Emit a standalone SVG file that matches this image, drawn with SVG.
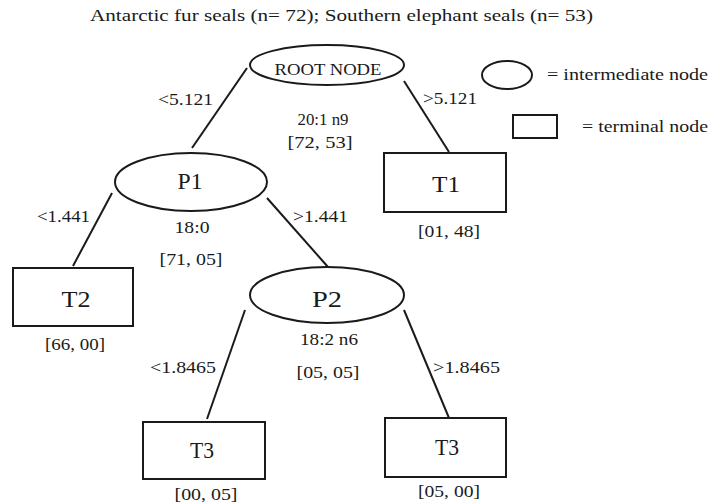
<svg xmlns="http://www.w3.org/2000/svg" width="724" height="504" viewBox="0 0 724 504" font-family="'Liberation Serif','Times New Roman',serif">
<style>
text{font-family:"Liberation Serif","Times New Roman",serif;fill:#1a1a1a}
.t{font-size:17px}
.m{text-anchor:middle}
.big{font-size:23px;text-anchor:middle}
.n{fill:#fff;stroke:#1a1a1a;stroke-width:2}
.c line{stroke:#1a1a1a;stroke-width:2}
</style>
<rect width="724" height="504" fill="#fff"/>
<text class="t" x="90" y="21" textLength="503" lengthAdjust="spacingAndGlyphs">Antarctic fur seals (n= 72); Southern elephant seals (n= 53)</text>

<g class="c" id="connectors">
<line x1="247" y1="68" x2="192" y2="148"/>
<line x1="404" y1="81" x2="449" y2="152"/>
<line x1="112" y1="193" x2="73" y2="266"/>
<line x1="267" y1="198" x2="328" y2="267"/>
<line x1="245" y1="310" x2="207" y2="419"/>
<line x1="404" y1="310" x2="449" y2="418"/>
</g>

<g id="labels">
<text class="t" x="158" y="105" textLength="55" lengthAdjust="spacingAndGlyphs">&lt;5.121</text>
<text class="t" x="423" y="104" textLength="54" lengthAdjust="spacingAndGlyphs">&gt;5.121</text>
<text class="t m" x="323" y="125" textLength="51" lengthAdjust="spacingAndGlyphs">20:1 n9</text>
<text class="t m" x="320" y="148" textLength="65" lengthAdjust="spacingAndGlyphs">[72, 53]</text>
<text class="t" x="37" y="222" textLength="53" lengthAdjust="spacingAndGlyphs">&lt;1.441</text>
<text class="t" x="293" y="222" textLength="55" lengthAdjust="spacingAndGlyphs">&gt;1.441</text>
<text class="t m" x="192" y="233" textLength="35" lengthAdjust="spacingAndGlyphs">18:0</text>
<text class="t m" x="191" y="265" textLength="63" lengthAdjust="spacingAndGlyphs">[71, 05]</text>
<text class="t" x="150" y="373" textLength="66" lengthAdjust="spacingAndGlyphs">&lt;1.8465</text>
<text class="t" x="433" y="373" textLength="67" lengthAdjust="spacingAndGlyphs">&gt;1.8465</text>
<text class="t m" x="329" y="345" textLength="58" lengthAdjust="spacingAndGlyphs">18:2 n6</text>
<text class="t m" x="328" y="378" textLength="63" lengthAdjust="spacingAndGlyphs">[05, 05]</text>
</g>

<g id="root">
<ellipse class="n" cx="327" cy="65" rx="77" ry="20"/>
<text class="t m" x="328" y="75" textLength="107" lengthAdjust="spacingAndGlyphs">ROOT NODE</text>
</g>
<g id="P1">
<ellipse class="n" cx="191" cy="182" rx="76" ry="29"/>
<text class="big" x="190" y="189" textLength="25" lengthAdjust="spacingAndGlyphs">P1</text>
</g>
<g id="T1">
<rect class="n" x="384" y="153" width="122" height="59"/>
<text class="big" x="446" y="192" textLength="28" lengthAdjust="spacingAndGlyphs">T1</text>
<text class="t m" x="449" y="237" textLength="62" lengthAdjust="spacingAndGlyphs">[01, 48]</text>
</g>
<g id="T2">
<rect class="n" x="13" y="268" width="120" height="58"/>
<text class="big" x="76" y="307" textLength="29" lengthAdjust="spacingAndGlyphs">T2</text>
<text class="t m" x="75" y="350" textLength="60" lengthAdjust="spacingAndGlyphs">[66, 00]</text>
</g>
<g id="P2">
<ellipse class="n" cx="327" cy="295" rx="77" ry="28"/>
<text class="big" x="327" y="307" textLength="30" lengthAdjust="spacingAndGlyphs">P2</text>
</g>
<g id="T3a">
<rect class="n" x="143" y="422" width="122" height="57"/>
<text class="big" x="202" y="458" textLength="24" lengthAdjust="spacingAndGlyphs">T3</text>
<text class="t m" x="206" y="500" textLength="63" lengthAdjust="spacingAndGlyphs">[00, 05]</text>
</g>
<g id="T3b">
<rect class="n" x="385" y="418" width="121" height="59"/>
<text class="big" x="447" y="455" textLength="24" lengthAdjust="spacingAndGlyphs">T3</text>
<text class="t m" x="449" y="497" textLength="62" lengthAdjust="spacingAndGlyphs">[05, 00]</text>
</g>
<g id="legend">
<ellipse class="n" cx="507" cy="75" rx="25" ry="14"/>
<text class="t" x="547" y="80" textLength="161" lengthAdjust="spacingAndGlyphs">= intermediate node</text>
<rect class="n" x="513" y="115" width="44" height="23"/>
<text class="t" x="582" y="132" textLength="126" lengthAdjust="spacingAndGlyphs">= terminal node</text>
</g>
</svg>
